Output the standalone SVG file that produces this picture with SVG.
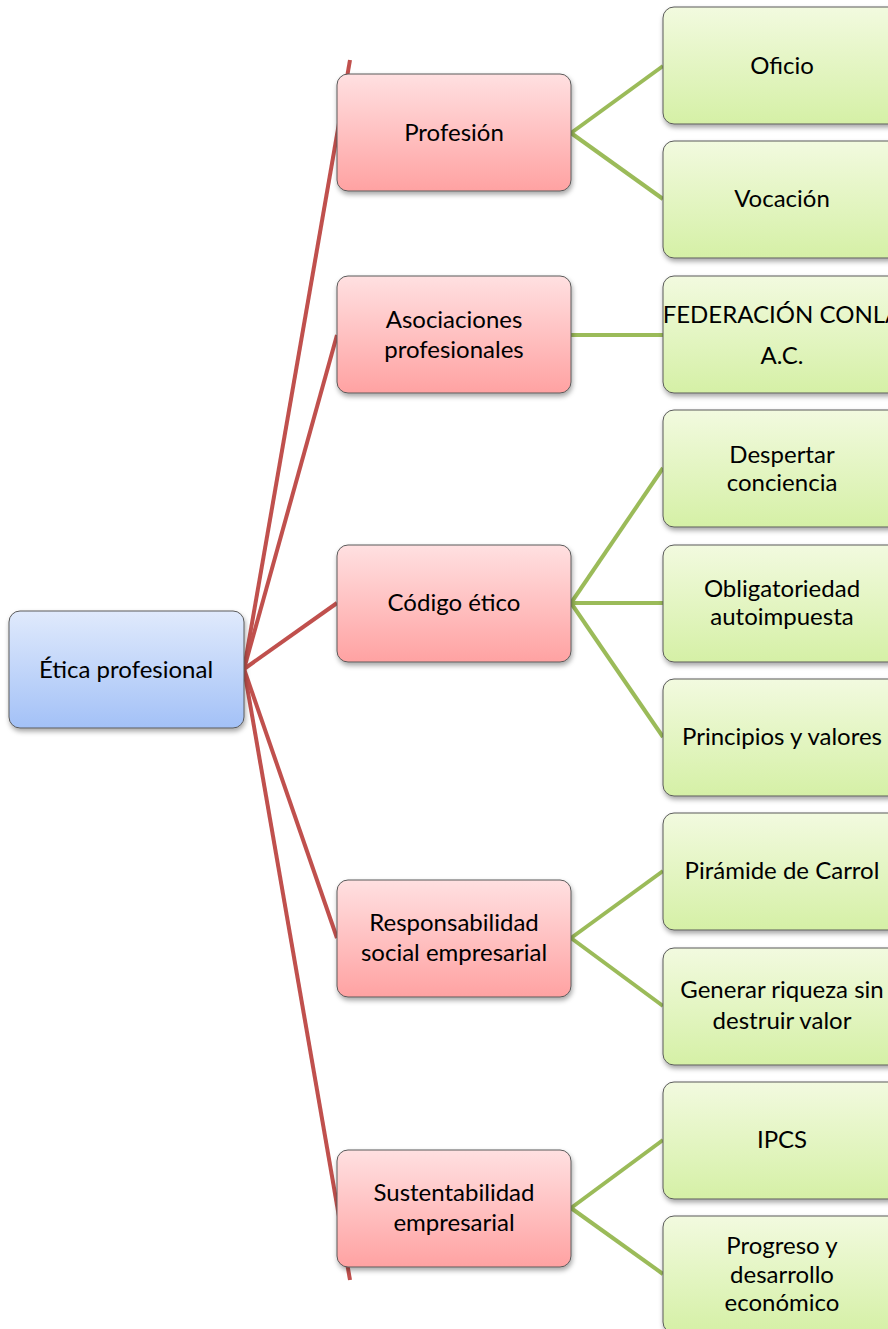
<svg xmlns="http://www.w3.org/2000/svg" width="888" height="1329" viewBox="0 0 888 1329">
<defs>
<linearGradient id="gBlue" x1="0" y1="0" x2="0" y2="1"><stop offset="0" stop-color="#E0EAFC"/><stop offset="1" stop-color="#A3C1F7"/></linearGradient>
<linearGradient id="gRed" x1="0" y1="0" x2="0" y2="1"><stop offset="0" stop-color="#FFE0E1"/><stop offset="1" stop-color="#FFA2A2"/></linearGradient>
<linearGradient id="gGreen" x1="0" y1="0" x2="0" y2="1"><stop offset="0" stop-color="#F2FADF"/><stop offset="1" stop-color="#D5F0A6"/></linearGradient>
<filter id="sh" x="-10%" y="-10%" width="125%" height="130%"><feDropShadow dx="1" dy="3" stdDeviation="2.5" flood-color="#000" flood-opacity="0.35"/></filter>
<style>
.box{stroke:#5a5a5a;stroke-width:1;filter:url(#sh)}
.b{fill:url(#gBlue)}
.r{fill:url(#gRed)}
.g{fill:url(#gGreen)}
text{font-family:Lato,"Liberation Sans",sans-serif;font-size:24px;fill:#000;text-anchor:middle}
.rl{stroke:#C0504D;stroke-width:4;fill:none}
.gl{stroke:#9BBB59;stroke-width:4;fill:none}
</style>
</defs>
<g id="connectors">
<line class="rl" x1="244" y1="669" x2="350" y2="60"/>
<line class="rl" x1="244" y1="669" x2="337" y2="335"/>
<line class="rl" x1="244" y1="669" x2="337" y2="603"/>
<line class="rl" x1="244" y1="669" x2="337" y2="938"/>
<line class="rl" x1="244" y1="669" x2="350" y2="1280"/>
<line class="gl" x1="571" y1="133" x2="663" y2="66"/>
<line class="gl" x1="571" y1="133" x2="663" y2="199"/>
<line class="gl" x1="571" y1="335" x2="663" y2="335"/>
<line class="gl" x1="571" y1="603" x2="663" y2="468"/>
<line class="gl" x1="571" y1="603" x2="663" y2="603"/>
<line class="gl" x1="571" y1="603" x2="663" y2="737"/>
<line class="gl" x1="571" y1="938" x2="663" y2="871"/>
<line class="gl" x1="571" y1="938" x2="663" y2="1006"/>
<line class="gl" x1="571" y1="1208" x2="663" y2="1140"/>
<line class="gl" x1="571" y1="1208" x2="663" y2="1274"/>
</g>
<g id="n-root"><rect class="box b" x="9" y="611" width="235" height="117" rx="11"/><text x="126" y="678">Ética profesional</text></g>
<g id="n-profesion"><rect class="box r" x="337" y="74" width="234" height="117" rx="11"/><text x="454" y="141">Profesión</text></g>
<g id="n-asociaciones"><rect class="box r" x="337" y="276" width="234" height="117" rx="11"/><text x="454" y="328">Asociaciones</text><text x="454" y="358">profesionales</text></g>
<g id="n-codigo"><rect class="box r" x="337" y="545" width="234" height="117" rx="11"/><text x="454" y="611">Código ético</text></g>
<g id="n-rse"><rect class="box r" x="337" y="880" width="234" height="117" rx="11"/><text x="454" y="931">Responsabilidad</text><text x="454" y="961">social empresarial</text></g>
<g id="n-sust"><rect class="box r" x="337" y="1150" width="234" height="117" rx="11"/><text x="454" y="1201">Sustentabilidad</text><text x="454" y="1231">empresarial</text></g>
<g id="n-oficio"><rect class="box g" x="663" y="7" width="238" height="117" rx="11"/><text x="782" y="74">Oficio</text></g>
<g id="n-vocacion"><rect class="box g" x="663" y="141" width="238" height="117" rx="11"/><text x="782" y="207">Vocación</text></g>
<g id="n-federacion"><rect class="box g" x="663" y="276" width="238" height="117" rx="11"/><text x="782" y="323">FEDERACIÓN CONLA</text><text x="782" y="364">A.C.</text></g>
<g id="n-despertar"><rect class="box g" x="663" y="410" width="238" height="117" rx="11"/><text x="782" y="463">Despertar</text><text x="782" y="491">conciencia</text></g>
<g id="n-obligatoriedad"><rect class="box g" x="663" y="545" width="238" height="117" rx="11"/><text x="782" y="597">Obligatoriedad</text><text x="782" y="625">autoimpuesta</text></g>
<g id="n-principios"><rect class="box g" x="663" y="679" width="238" height="117" rx="11"/><text x="782" y="745">Principios y valores</text></g>
<g id="n-piramide"><rect class="box g" x="663" y="813" width="238" height="117" rx="11"/><text x="782" y="879">Pirámide de Carrol</text></g>
<g id="n-generar"><rect class="box g" x="663" y="948" width="238" height="117" rx="11"/><text x="782" y="998">Generar riqueza sin</text><text x="782" y="1029">destruir valor</text></g>
<g id="n-ipcs"><rect class="box g" x="663" y="1082" width="238" height="117" rx="11"/><text x="782" y="1148">IPCS</text></g>
<g id="n-progreso"><rect class="box g" x="663" y="1216" width="238" height="117" rx="11"/><text x="782" y="1254">Progreso y</text><text x="782" y="1283">desarrollo</text><text x="782" y="1311">económico</text></g>
</svg>
